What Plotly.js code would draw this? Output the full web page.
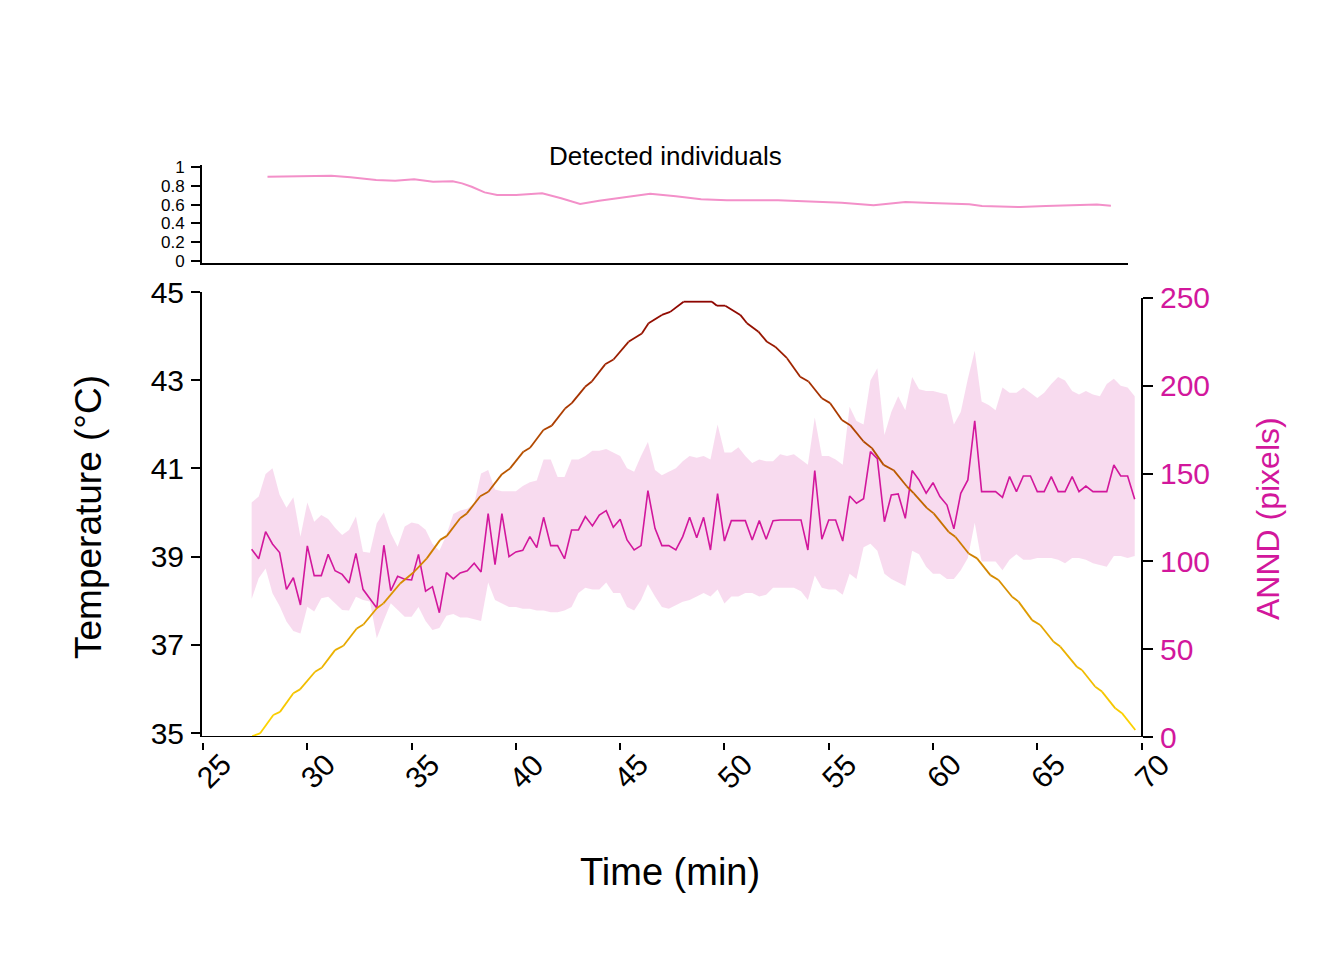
<!DOCTYPE html>
<html>
<head>
<meta charset="utf-8">
<script src="https://cdn.plot.ly/plotly-3.0.1.min.js"></script>
<style>html,body{margin:0;padding:0;background:#fff}</style>
</head>
<body>
<div id="chart" style="width:1344px;height:960px"></div>
<script>
// ---------- data ----------
const anndTime = [27.33,27.67,28.00,28.33,28.67,29.00,29.33,29.67,30.00,30.33,
  30.67,31.00,31.33,31.67,32.00,32.33,32.67,33.00,33.33,33.67,
  34.00,34.33,34.67,35.00,35.33,35.67,36.00,36.33,36.67,37.00,
  37.33,37.67,38.00,38.33,38.67,39.00,39.33,39.67,40.00,40.33,
  40.67,41.00,41.33,41.67,42.00,42.33,42.67,43.00,43.33,43.67,
  44.00,44.33,44.67,45.00,45.33,45.67,46.00,46.33,46.67,47.00,
  47.33,47.67,48.00,48.33,48.67,49.00,49.33,49.67,50.00,50.33,
  50.67,51.00,51.33,51.67,52.00,52.33,52.67,53.00,53.33,53.67,
  54.00,54.33,54.67,55.00,55.33,55.67,56.00,56.33,56.67,57.00,
  57.33,57.67,58.00,58.33,58.67,59.00,59.33,59.67,60.00,60.33,
  60.67,61.00,61.33,61.67,62.00,62.33,62.67,63.00,63.33,63.67,
  64.00,64.33,64.67,65.00,65.33,65.67,66.00,66.33,66.67,67.00,
  67.33,67.67,68.00,68.33,68.67,69.00,69.33,69.67];
const anndMean = [106.9,101.5,116.9,109.9,105.0,84.1,90.7,75.2,108.8,91.9,
  91.9,104.0,94.7,92.6,87.7,104.6,84.1,78.6,73.5,109.2,
  83.3,91.5,89.8,89.4,104.0,83.1,85.6,70.8,93.6,90.0,
  93.4,94.7,98.9,94.0,127.2,98.1,127.2,102.7,105.4,106.3,
  114.1,107.8,125.1,109.0,109.0,101.5,117.9,117.9,125.5,120.2,
  126.4,128.9,119.4,124.0,112.2,106.5,109.0,140.3,118.8,109.0,
  109.0,106.5,114.1,125.1,113.5,125.1,106.5,138.6,111.6,123.2,
  123.2,123.2,112.2,123.2,112.6,123.2,123.6,123.6,123.6,123.6,
  106.5,151.7,112.6,123.6,123.6,111.6,137.2,133.1,135.7,162.5,
  158.5,122.6,137.8,138.4,124.5,151.7,146.4,138.8,144.8,136.9,
  132.1,118.5,138.8,146.4,180.1,139.7,139.7,139.7,136.5,148.3,
  139.7,148.6,148.6,139.7,139.7,148.3,139.7,139.7,148.3,139.7,
  142.9,139.7,139.7,139.7,154.9,148.6,148.6,135.4];
const anndUpper = [133.6,136.9,149.8,153.0,138,130.6,136.5,114.1,133.6,122.6,
  126.4,124.1,119.2,115.0,117.9,125.5,105.5,104.9,121.7,127.9,
  116.0,108.4,119.8,122.1,121.3,118,110,106,115,127,
  129,130,133,150,152,141,140,140,140,143,
  145,146,158,158,148,148,158,158,160,163,
  163,164,162,160,153,151,160,168,152,149,
  151,153,157,160,159,160,158,178,162,162,
  165,160,156,158,157,157,161,160,161,158,
  155,182,160,160,158,155,188,180,178,203,
  210,172,185,194,186,205,198,197,197,196,
  195,178,185,204,220,191,189,186,199,196,
  196,199,196,193,196,201,205,203,197,195,
  197,195,194,201,204,200,199,194];
const anndLower = [78.6,90.4,96.0,81.8,74.6,65.7,60.4,59.0,74.2,71.4,
  79.0,79.9,76.1,72.3,72.1,79.9,78.0,77.1,56.2,66.6,
  76.1,72.3,68.5,68.5,74,66,61,62,69,70,
  68,68,67,66,88,78,76,74,74,73,
  73,72,72,71,71,72,74,82,85,84,
  84,88,82,82,74,72,78,87,80,74,
  73,75,77,78,80,82,80,84,76,80,
  80,82,82,80,81,85,85,85,85,83,
  78,92,85,84,84,81,93,90,108,110,
  106,93,90,88,86,106,104,97,93,93,
  90,90,95,102,122,100,100,100,95,101,
  104,101,101,102,102,102,101,99,102,102,
  101,99,98,97,103,103,102,103];

const tempTime = [27.36,27.73,28.37,28.69,29.33,29.65,30.37,30.69,31.33,31.73,
  32.37,32.69,33.33,33.65,34.45,35.09,35.73,36.37,36.69,37.33,
  37.65,38.29,38.68,39.33,39.72,40.36,40.68,41.32,41.72,42.36,
  42.68,43.32,43.64,44.28,44.68,45.40,46.04,46.36,47.00,47.40,
  48.04,49.40,49.64,50.04,50.76,51.08,51.63,52.04,52.43,53.00,
  53.63,54.03,54.67,55.07,55.63,56.03,56.67,57.07,57.63,58.11,
  58.75,59.07,59.71,60.03,60.75,61.07,61.71,62.11,62.75,63.14,
  63.79,64.10,64.75,65.14,65.78,66.10,66.90,67.14,67.78,68.10,
  68.74,69.06,69.70];
const tempValue = [34.93,34.99,35.41,35.48,35.90,35.99,36.39,36.48,36.88,36.98,
  37.37,37.46,37.83,37.94,38.39,38.64,38.96,39.38,39.47,39.87,
  39.98,40.37,40.47,40.87,41.00,41.38,41.47,41.87,41.97,42.36,
  42.48,42.85,42.97,43.36,43.47,43.87,44.06,44.29,44.48,44.55,
  44.78,44.78,44.69,44.69,44.48,44.29,44.10,43.87,43.76,43.50,
  43.08,42.97,42.59,42.48,42.10,41.98,41.61,41.46,41.08,40.96,
  40.59,40.44,40.10,39.98,39.56,39.45,39.07,38.96,38.58,38.47,
  38.09,37.98,37.56,37.45,37.07,36.96,36.50,36.43,36.05,35.94,
  35.56,35.45,35.07];

const detTime = [28.09,29.32,31.15,32.07,33.30,34.21,35.12,36.03,36.97,37.42,
  37.88,38.50,39.10,40.01,41.26,42.17,43.08,43.99,45.23,46.44,
  47.67,48.88,50.12,52.57,54.40,55.62,57.15,58.68,59.91,61.74,
  62.35,64.18,65.41,66.63,67.86,68.53];
const detValue = [0.897,0.904,0.908,0.890,0.862,0.855,0.869,0.844,0.848,0.826,
  0.790,0.730,0.702,0.702,0.720,0.667,0.606,0.642,0.680,0.716,
  0.688,0.656,0.645,0.645,0.631,0.621,0.592,0.628,0.617,0.603,
  0.585,0.574,0.585,0.589,0.600,0.589];

const timeTicks = [25,30,35,40,45,50,55,60,65,70];
const tempTicks = [35,37,39,41,43,45];
const anndTicks = [0,50,100,150,200,250];
const detTicks = [0,0.2,0.4,0.6,0.8,1];
const detTickText = ['0','0.2','0.4','0.6','0.8','1'];

// ---------- styling ----------
const FONT = 'Liberation Sans, Arial, Helvetica, sans-serif';
const MAG = '#D2179C';
const RIBBON = 'rgba(214,40,160,0.17)';
const DET = '#F390C9';

function tempColor(t) {
  let f = (t - 35) / 10;
  f = Math.max(0, Math.min(1, f));
  const r = Math.round(255 + (139 - 255) * f);
  const g = Math.round(215 * (1 - f));
  return 'rgb(' + r + ',' + g + ',0)';
}

const traces = [];
traces.push({
  x: anndTime.concat(anndTime.slice().reverse()),
  y: anndUpper.concat(anndLower.slice().reverse()),
  xaxis: 'x', yaxis: 'y',
  type: 'scatter', mode: 'lines', fill: 'toself',
  fillcolor: RIBBON, line: {width: 0, color: 'rgba(0,0,0,0)'},
  hoverinfo: 'skip', showlegend: false
});
traces.push({
  x: anndTime, y: anndMean, xaxis: 'x', yaxis: 'y',
  type: 'scatter', mode: 'lines',
  line: {color: MAG, width: 1.6},
  showlegend: false, name: 'ANND'
});
for (let i = 0; i < tempTime.length - 1; i++) {
  traces.push({
    x: [tempTime[i], tempTime[i + 1]],
    y: [tempValue[i], tempValue[i + 1]],
    xaxis: 'x', yaxis: 'y2',
    type: 'scatter', mode: 'lines',
    line: {color: tempColor((tempValue[i] + tempValue[i + 1]) / 2), width: 1.8},
    showlegend: false, hoverinfo: 'skip'
  });
}
traces.push({
  x: detTime, y: detValue, xaxis: 'x2', yaxis: 'y3',
  type: 'scatter', mode: 'lines',
  line: {color: DET, width: 2},
  showlegend: false, name: 'Detected individuals'
});

// ---------- geometry ----------
const W = 1344, H = 960;
const mL = 202, mR = 202, mT = 140, mB = 218;
const plotH = H - mT - mB;
const py = p => (H - mB - p) / plotH;
const px = p => (p - mL) / (W - mL - mR);

const annotations = [
  {text: 'Time (min)', xref: 'paper', yref: 'paper', x: px(670), y: py(872),
   xanchor: 'center', yanchor: 'middle', showarrow: false,
   font: {size: 38, family: FONT, color: '#000'}},
  {text: 'Temperature (°C)', xref: 'paper', yref: 'paper', x: px(88), y: py(517),
   xanchor: 'center', yanchor: 'middle', textangle: -90, showarrow: false,
   font: {size: 37, family: FONT, color: '#000'}},
  {text: 'ANND (pixels)', xref: 'paper', yref: 'paper', x: px(1268), y: py(519),
   xanchor: 'center', yanchor: 'middle', textangle: -90, showarrow: false,
   font: {size: 32, family: FONT, color: MAG}},
  {text: 'Detected individuals', xref: 'paper', yref: 'paper', x: px(665), y: py(156),
   xanchor: 'center', yanchor: 'middle', showarrow: false,
   font: {size: 26, family: FONT, color: '#000'}}
];
// rotated time tick labels (placed like the reference)
timeTicks.forEach(v => {
  annotations.push({
    text: String(v), xref: 'x', yref: 'paper', x: v, y: py(771),
    xanchor: 'center', yanchor: 'middle', xshift: 10, textangle: -45,
    showarrow: false, font: {size: 30, family: FONT, color: '#000'}
  });
});

const layout = {
  width: W, height: H,
  margin: {l: mL, r: mR, t: mT, b: mB, pad: 0},
  paper_bgcolor: '#fff', plot_bgcolor: 'rgba(0,0,0,0)',
  font: {family: FONT, color: '#000'},
  showlegend: false,
  xaxis: {
    domain: [0, 1], range: [24.95, 70.02], anchor: 'free', position: 0,
    tickmode: 'array', tickvals: timeTicks, showticklabels: false,
    ticks: 'outside', ticklen: 7, tickwidth: 2, tickcolor: '#000',
    showline: false, showgrid: false, zeroline: false, automargin: false, fixedrange: true
  },
  yaxis: {
    domain: [py(737), py(292)], range: [0, 253.4], anchor: 'x', side: 'right',
    tickmode: 'array', tickvals: anndTicks, ticktext: anndTicks.map(String),
    ticks: 'outside', ticklen: 10, tickwidth: 2, tickcolor: '#000',
    tickfont: {size: 30, family: FONT, color: MAG}, ticklabelstandoff: 1,
    showline: false, showgrid: false, zeroline: false, automargin: false, fixedrange: true
  },
  yaxis2: {
    domain: [py(737), py(292)], range: [34.91, 45.0], overlaying: 'y', anchor: 'x', side: 'left',
    tickmode: 'array', tickvals: tempTicks, ticktext: tempTicks.map(String),
    ticks: 'outside', ticklen: 9, tickwidth: 2, tickcolor: '#000',
    tickfont: {size: 30, family: FONT, color: '#000'}, ticklabelstandoff: 1,
    showline: true, linewidth: 2, linecolor: '#000',
    showgrid: false, zeroline: false, automargin: false, fixedrange: true
  },
  xaxis2: {
    domain: [0, px(1128)], range: [24.95, 69.35], anchor: 'y3',
    showline: true, linewidth: 2, linecolor: '#000',
    ticks: '', showticklabels: false,
    showgrid: false, zeroline: false, automargin: false, fixedrange: true
  },
  yaxis3: {
    domain: [py(263), py(165)], range: [-0.0213, 1.0213], anchor: 'x2',
    tickmode: 'array', tickvals: detTicks, ticktext: detTickText,
    ticks: 'outside', ticklen: 9, tickwidth: 2, tickcolor: '#000',
    tickfont: {size: 17, family: FONT, color: '#000'}, ticklabelstandoff: 3,
    showline: true, linewidth: 2, linecolor: '#000',
    showgrid: false, zeroline: false, automargin: false, fixedrange: true
  },
  shapes: [
    {type: 'line', xref: 'paper', yref: 'y', x0: 0, x1: 1, y0: 0, y1: 0,
     line: {color: '#000', width: 2}},
    {type: 'line', xref: 'paper', yref: 'y', x0: 1, x1: 1, y0: 0, y1: 250,
     line: {color: '#000', width: 2}}
  ],
  annotations: annotations
};

Plotly.newPlot('chart', traces, layout, {staticPlot: true, displayModeBar: false});
</script>
</body>
</html>
